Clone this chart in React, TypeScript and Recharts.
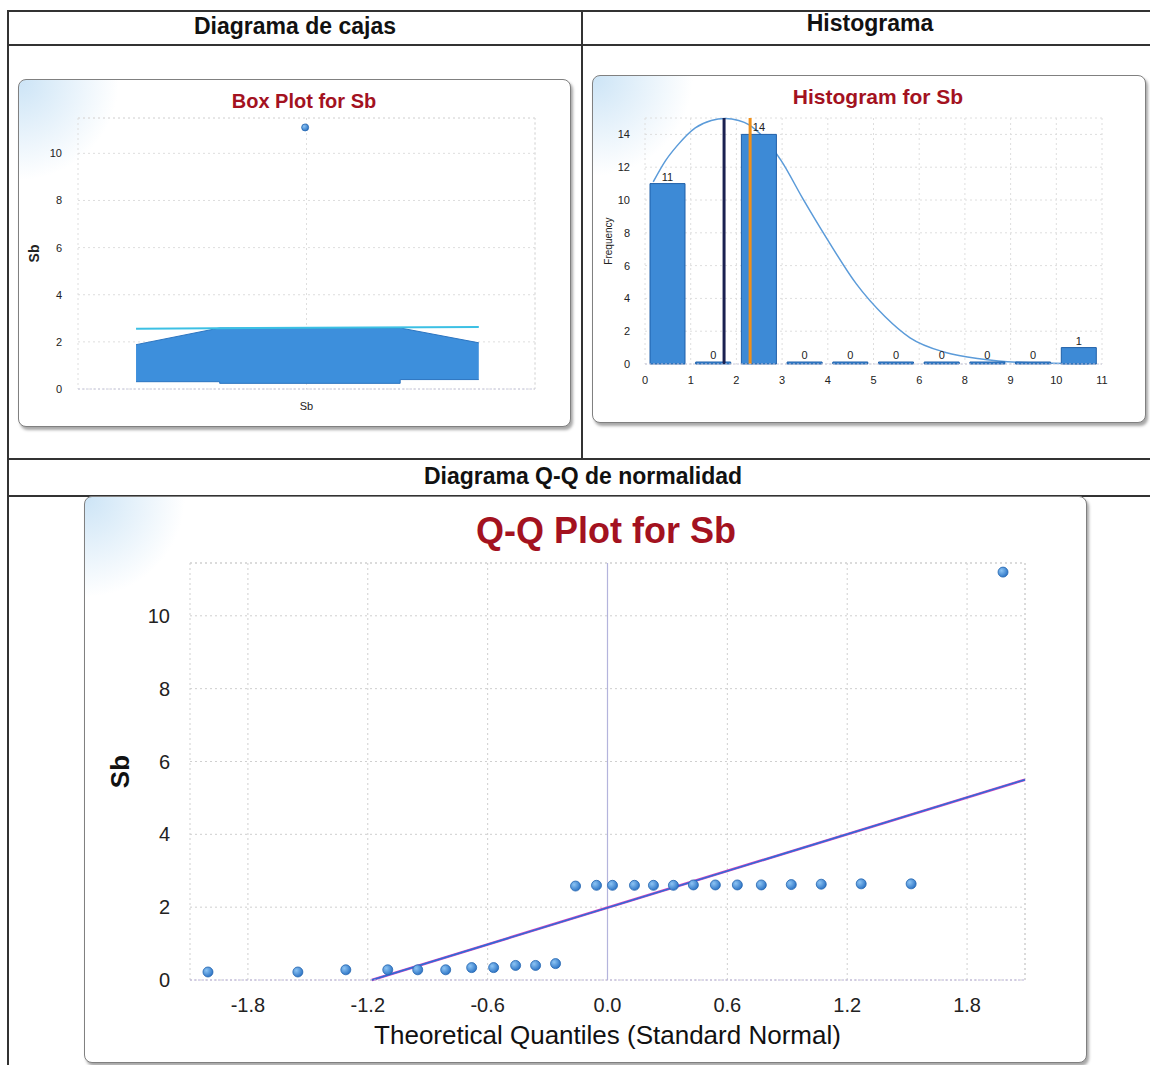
import {
  Area,
  Bar,
  CartesianGrid,
  ComposedChart,
  LabelList,
  Line,
  ReferenceLine,
  Scatter,
  XAxis,
  YAxis,
} from 'recharts';

// --- box plot (notched box drawn as a range area) ---
const boxX = [0.127, 0.31, 0.31, 0.705, 0.705, 0.877];
const boxLow = [0.31, 0.31, 0.24, 0.24, 0.4, 0.4];
const boxHigh = [1.88, 2.59, 2.59, 2.59, 2.59, 1.96];
const medianX = [0.127, 0.877];
const medianY = [2.56, 2.63];
const outlierX = [0.497];
const outlierY = [11.1];
const boxTicks = [0, 2, 4, 6, 8, 10];

// --- histogram ---
const binLabels = ['0', '1', '2', '3', '4', '5', '6', '8', '9', '10', '11'];
const binNames = ['b1', 'b2', 'b3', 'b4', 'b5', 'b6', 'b7', 'b8', 'b9', 'b10'];
const binFreq = [11, 0, 14, 0, 0, 0, 0, 0, 0, 1];
const curveX = [0.18, 0.45, 0.7, 1.1, 1.45, 1.75, 2.05, 2.27, 2.6, 2.98, 3.45, 3.99, 4.62, 5.25, 5.8, 6.58, 7.36, 8.14, 8.93, 9.7];
const curveY = [11.1, 12.4, 13.3, 14.4, 14.85, 14.97, 14.85, 14.6, 13.8, 12.4, 10.1, 7.6, 4.9, 2.9, 1.6, 0.7, 0.3, 0.1, 0.04, 0.01];
const meanLineX = 1.73;
const medianLineX = 2.3;
const histTicks = [0, 2, 4, 6, 8, 10, 12, 14];

// --- Q-Q plot ---
const qqTheo = [
  -2.0, -1.55, -1.31, -1.1, -0.95, -0.81, -0.68, -0.57, -0.46, -0.36, -0.26,
  -0.16, -0.055, 0.025, 0.135, 0.23, 0.33, 0.43, 0.54, 0.65, 0.77, 0.92, 1.07, 1.27, 1.52,
  1.98,
];
const qqSample = [
  0.22, 0.22, 0.28, 0.28, 0.28, 0.28, 0.34, 0.34, 0.4, 0.4, 0.45,
  2.58, 2.6, 2.6, 2.6, 2.6, 2.6, 2.61, 2.61, 2.61, 2.61, 2.62, 2.63, 2.64, 2.64,
  11.2,
];
const qqLineX = [-1.18, 2.09];
const qqLineY = [0, 5.5];
const qqXTicks = [-1.8, -1.2, -0.6, 0, 0.6, 1.2, 1.8];
const qqYTicks = [0, 2, 4, 6, 8, 10];

const FONT = '"Liberation Sans", Arial, Helvetica, sans-serif';
const TITLE_RED = '#a3121f';
const GRID = '#dedede';

function Panel({ left, top, width, height }: { left: number; top: number; width: number; height: number }) {
  return (
    <div
      style={{
        position: 'absolute',
        left,
        top,
        width,
        height,
        border: '1.5px solid #808080',
        borderRadius: 8,
        boxShadow: '2px 3px 3px rgba(0,0,0,0.35)',
        background:
          'radial-gradient(circle at 0% 0%, rgba(170,210,240,0.6) 0px, rgba(255,255,255,0) 100px), #fff',
        boxSizing: 'border-box',
      }}
    />
  );
}

function Text({ x, y, size, bold, color, children }: any) {
  return (
    <div
      style={{
        position: 'absolute',
        left: x - 300,
        top: y - size * 0.6,
        width: 600,
        textAlign: 'center',
        fontSize: size,
        lineHeight: `${size * 1.2}px`,
        fontWeight: bold ? 'bold' : 'normal',
        color: color || '#111',
        fontFamily: FONT,
      }}
    >
      {children}
    </div>
  );
}

function HLine({ x1, x2, y }: { x1: number; x2: number; y: number }) {
  return <div style={{ position: 'absolute', left: x1, top: y, width: x2 - x1, height: 2, background: '#333' }} />;
}

function VLine({ x, y1, y2 }: { x: number; y1: number; y2: number }) {
  return <div style={{ position: 'absolute', left: x, top: y1, width: 2, height: y2 - y1, background: '#333' }} />;
}

const dot = (id: string, r: number) => (p: any) =>
  <circle cx={p.cx} cy={p.cy} r={r} fill={`url(#${id})`} stroke="#2466b0" strokeWidth={0.8} />;

function BoxPlot() {
  const data = boxX.map((x, i) => ({ x, range: [boxLow[i], boxHigh[i]] }));
  const median = medianX.map((x, i) => ({ x, y: medianY[i] }));
  const outliers = outlierX.map((x, i) => ({ x, y: outlierY[i] }));
  return (
    <div style={{ position: 'absolute', left: 20, top: 110 }}>
      <ComposedChart width={530} height={309} data={data} margin={{ top: 8, right: 15, bottom: 0, left: 0 }}>
        <defs>
          <radialGradient id="boxDot" cx="35%" cy="35%" r="70%">
            <stop offset="0%" stopColor="#8cc4f4" />
            <stop offset="100%" stopColor="#2a72c4" />
          </radialGradient>
        </defs>
        <CartesianGrid stroke={GRID} strokeDasharray="2 3" />
        <XAxis
          type="number"
          dataKey="x"
          domain={[0, 1]}
          ticks={[0.5]}
          tickFormatter={() => 'Sb'}
          tickLine={false}
          axisLine={{ stroke: '#c8c8dc', strokeDasharray: '2 2' }}
          tick={{ fontSize: 11, fill: '#222', fontFamily: FONT }}
          tickMargin={7}
          height={30}
        />
        <YAxis
          type="number"
          dataKey="y"
          domain={[0, 11.5]}
          ticks={boxTicks}
          width={58}
          tickLine={false}
          axisLine={false}
          tick={{ fontSize: 11, fill: '#222', fontFamily: FONT }}
          tickMargin={10}
          label={{
            value: 'Sb',
            angle: -90,
            position: 'insideLeft',
            offset: 14,
            style: { textAnchor: 'middle', fontWeight: 'bold', fontSize: 14, fill: '#222', fontFamily: FONT },
          }}
        />
        <ReferenceLine y={11.5} stroke={GRID} strokeDasharray="2 3" />
        <ReferenceLine x={1} stroke={GRID} strokeDasharray="2 3" />
        <Area
          dataKey="range"
          type="linear"
          fill="#3d8fdc"
          fillOpacity={1}
          stroke="#2b74c0"
          strokeWidth={1}
          isAnimationActive={false}
        />
        <Line data={median} dataKey="y" stroke="#3cc0e4" strokeWidth={2} dot={false} isAnimationActive={false} />
        <Scatter data={outliers} dataKey="y" shape={dot('boxDot', 3.5)} isAnimationActive={false} />
      </ComposedChart>
    </div>
  );
}

function Histogram() {
  const data = binFreq.map((freq, i) => ({ bin: binNames[i], freq }));
  const curve = curveX.map((x, i) => ({ x, y: curveY[i] }));
  const ticks = binLabels.map((_, i) => i);
  return (
    <div style={{ position: 'absolute', left: 588, top: 110 }}>
      <ComposedChart width={534} height={284} data={data} margin={{ top: 8, right: 20, bottom: 5, left: 0 }}>
        <CartesianGrid stroke={GRID} strokeDasharray="2 3" />
        <XAxis
          type="number"
          dataKey="x"
          domain={[0, 10]}
          ticks={ticks}
          tickFormatter={(v: number) => binLabels[v]}
          tickLine={false}
          axisLine={{ stroke: '#c8c8dc', strokeDasharray: '2 2' }}
          tick={{ fontSize: 11, fill: '#222', fontFamily: FONT }}
          tickMargin={6}
          height={25}
        />
        <XAxis xAxisId="cat" type="category" dataKey="bin" hide />
        <YAxis
          type="number"
          domain={[0, 15]}
          ticks={histTicks}
          width={57}
          tickLine={false}
          axisLine={false}
          tick={{ fontSize: 11, fill: '#222', fontFamily: FONT }}
          tickMargin={9}
          label={{
            value: 'Frequency',
            angle: -90,
            position: 'insideLeft',
            offset: 20,
            style: { textAnchor: 'middle', fontSize: 10, fill: '#222', fontFamily: FONT },
          }}
        />
        <Bar
          xAxisId="cat"
          dataKey="freq"
          barSize={35}
          fill="#3d8ad6"
          stroke="#1f5fa8"
          strokeWidth={1}
          minPointSize={2}
          isAnimationActive={false}
        >
          <LabelList dataKey="freq" position="top" offset={3} style={{ fontSize: 11, fill: '#222', fontFamily: FONT }} />
        </Bar>
        <Area
          data={curve}
          dataKey="y"
          type="monotone"
          stroke="#5b9bd9"
          strokeWidth={1.5}
          fill="none"
          fillOpacity={0}
          dot={false}
          isAnimationActive={false}
        />
        <ReferenceLine x={meanLineX} stroke="#1b2150" strokeWidth={3} />
        <ReferenceLine x={medianLineX} stroke="#f0901a" strokeWidth={3} />
      </ComposedChart>
    </div>
  );
}

function QQPlot() {
  const points = qqTheo.map((x, i) => ({ x, y: qqSample[i] }));
  const line = qqLineX.map((x, i) => ({ x, y: qqLineY[i] }));
  return (
    <div style={{ position: 'absolute', left: 100, top: 555 }}>
      <ComposedChart width={945} height={495} margin={{ top: 8, right: 20, bottom: 0, left: 0 }}>
        <defs>
          <radialGradient id="qqDot" cx="35%" cy="35%" r="70%">
            <stop offset="0%" stopColor="#8cc4f4" />
            <stop offset="100%" stopColor="#2a72c4" />
          </radialGradient>
        </defs>
        <CartesianGrid stroke="#cfcfcf" strokeDasharray="2 3" />
        <XAxis
          type="number"
          dataKey="x"
          domain={[-2.09, 2.09]}
          ticks={qqXTicks}
          tickFormatter={(v: number) => v.toFixed(1)}
          tickLine={false}
          axisLine={{ stroke: '#b9b0d8', strokeDasharray: '2 2' }}
          tick={{ fontSize: 20, fill: '#222', fontFamily: FONT }}
          tickMargin={12}
          height={70}
          label={{
            value: 'Theoretical Quantiles (Standard Normal)',
            position: 'insideBottom',
            offset: 6,
            style: { fontSize: 26, fill: '#111', fontFamily: FONT },
          }}
        />
        <YAxis
          type="number"
          dataKey="y"
          domain={[0, 11.45]}
          ticks={qqYTicks}
          width={90}
          tickLine={false}
          axisLine={false}
          tick={{ fontSize: 20, fill: '#222', fontFamily: FONT }}
          tickMargin={14}
          label={{
            value: 'Sb',
            angle: -90,
            position: 'insideLeft',
            offset: 20,
            style: { textAnchor: 'middle', fontWeight: 'bold', fontSize: 26, fill: '#111', fontFamily: FONT },
          }}
        />
        <ReferenceLine y={11.45} stroke="#cfcfcf" strokeDasharray="2 3" />
        <ReferenceLine x={2.09} stroke="#cfcfcf" strokeDasharray="2 3" />
        <ReferenceLine x={0} stroke="#b4b4dc" strokeWidth={1.2} />
        <Line data={line} dataKey="y" stroke="#d040c0" strokeWidth={2.6} dot={false} isAnimationActive={false} />
        <Line data={line} dataKey="y" stroke="#2a6fd6" strokeWidth={1.5} dot={false} isAnimationActive={false} />
        <Scatter data={points} dataKey="y" shape={dot('qqDot', 5)} isAnimationActive={false} />
      </ComposedChart>
    </div>
  );
}

export default function App() {
  return (
    <div
      style={{
        position: 'absolute',
        left: 0,
        top: 0,
        width: 1150,
        height: 1065,
        overflow: 'hidden',
        background: '#fff',
        fontFamily: FONT,
      }}
    >
      {/* table lines */}
      <HLine x1={8} x2={1150} y={10} />
      <HLine x1={8} x2={1150} y={44} />
      <HLine x1={8} x2={1150} y={458} />
      <HLine x1={8} x2={1150} y={495} />
      <VLine x={7} y1={10} y2={1065} />
      <VLine x={581} y1={10} y2={459} />

      <Text x={295} y={27} size={23} bold>Diagrama de cajas</Text>
      <Text x={870} y={24} size={23} bold>Histograma</Text>
      <Text x={583} y={477} size={23} bold>Diagrama Q-Q de normalidad</Text>

      <Panel left={18} top={79} width={553} height={348} />
      <Panel left={592} top={75} width={554} height={348} />
      <Panel left={84} top={496} width={1003} height={567} />

      <Text x={304} y={101} size={20} bold color={TITLE_RED}>Box Plot for Sb</Text>
      <Text x={878} y={97} size={21} bold color={TITLE_RED}>Histogram for Sb</Text>
      <Text x={606} y={531} size={36} bold color={TITLE_RED}>Q-Q Plot for Sb</Text>

      <BoxPlot />
      <Histogram />
      <QQPlot />
    </div>
  );
}
